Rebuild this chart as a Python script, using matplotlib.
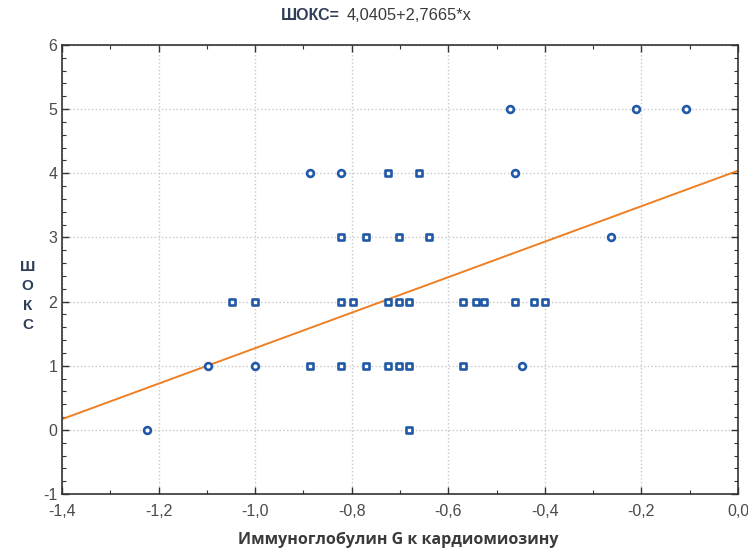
import numpy as np
import matplotlib
matplotlib.use("Agg")
import matplotlib.pyplot as plt
from matplotlib.ticker import MultipleLocator, FuncFormatter
from matplotlib import font_manager

# data
sq_x = [-1.048, -1.000, -0.887, -0.822, -0.822, -0.822, -0.797, -0.771, -0.771,
        -0.725, -0.725, -0.725, -0.702, -0.702, -0.702, -0.682, -0.682, -0.682,
        -0.661, -0.640, -0.570, -0.570, -0.543, -0.526, -0.462, -0.423, -0.400]
sq_y = [2, 2, 1, 3, 2, 1, 2, 3, 1,
        4, 2, 1, 3, 2, 1, 2, 1, 0,
        4, 3, 2, 1, 2, 2, 2, 2, 2]
ci_x = [-1.224, -1.098, -1.000, -0.887, -0.822, -0.472, -0.462, -0.448, -0.263, -0.212, -0.108]
ci_y = [0, 1, 1, 4, 4, 5, 4, 1, 3, 5, 5]
intercept, slope = 4.0405, 2.7665

names = {f.name for f in font_manager.fontManager.ttflist}
tick_font = "Liberation Sans Narrow" if "Liberation Sans Narrow" in names else "Liberation Sans"
plt.rcParams["font.family"] = [tick_font, "DejaVu Sans"]

blue = "#2259a6"
orange = "#ee7f22"
txt = "#3a3a3a"
navy = "#2f3f58"

fig = plt.figure(figsize=(7.48, 5.52), dpi=100)
ax = fig.add_axes([0.0829, 0.105, 0.9037, 0.8135])

xl = np.array([-1.4, 0.0])
ax.plot(xl, intercept + slope * xl, color=orange, lw=1.4, zorder=2)
ax.scatter(sq_x, sq_y, marker="s", s=20, facecolors="white", edgecolors=blue, linewidths=1.9, zorder=3)
ax.scatter(ci_x, ci_y, marker="o", s=24, facecolors="white", edgecolors=blue, linewidths=1.9, zorder=3)

ax.set_xlim(-1.4, 0.0)
ax.set_ylim(-1, 6)
ax.xaxis.set_major_locator(MultipleLocator(0.2))
ax.xaxis.set_minor_locator(MultipleLocator(0.1))
ax.yaxis.set_major_locator(MultipleLocator(1))
ax.yaxis.set_minor_locator(MultipleLocator(0.2))
comma = FuncFormatter(lambda v, p: f"{v:.1f}".replace(".", ",").replace("-0,0", "0,0"))
ax.xaxis.set_major_formatter(comma)
ax.yaxis.set_major_formatter(FuncFormatter(lambda v, p: f"{v:.0f}"))
ax.tick_params(which="both", direction="in", top=True, right=True, colors="#333333",
               labelcolor="#4a4a4a", labelsize=11.5)
ax.tick_params(which="major", length=5, width=1)
ax.tick_params(which="minor", length=3, width=0.8)
ax.tick_params(axis="x", pad=7)
ax.grid(True, which="major", ls=":", color="#c8c8c8", lw=1)
for s in ax.spines.values():
    s.set_color("#333333")
    s.set_linewidth(1.2)

fig.text(0.4545, 0.972, "ШОКС=", ha="right", va="center", fontsize=11.5, fontweight="bold", color=navy,
         family=[tick_font, "DejaVu Sans"])
fig.text(0.4635, 0.972, "4,0405+2,7665*x", ha="left", va="center", fontsize=11.8, color=txt)
fig.text(0.533, 0.022, "Иммуноглобулин G к кардиомиозину", ha="center", va="center",
         fontsize=11.5, fontweight="bold", color=txt, family=["Open Sans", "DejaVu Sans"])
fig.text(0.037, 1 - 296 / 552, "Ш\nО\nК\nС", ha="center", va="center", fontsize=11,
         fontweight="bold", color=navy, linespacing=1.5, family=["Liberation Sans", "DejaVu Sans"])

fig.savefig("out.png", dpi=100)
